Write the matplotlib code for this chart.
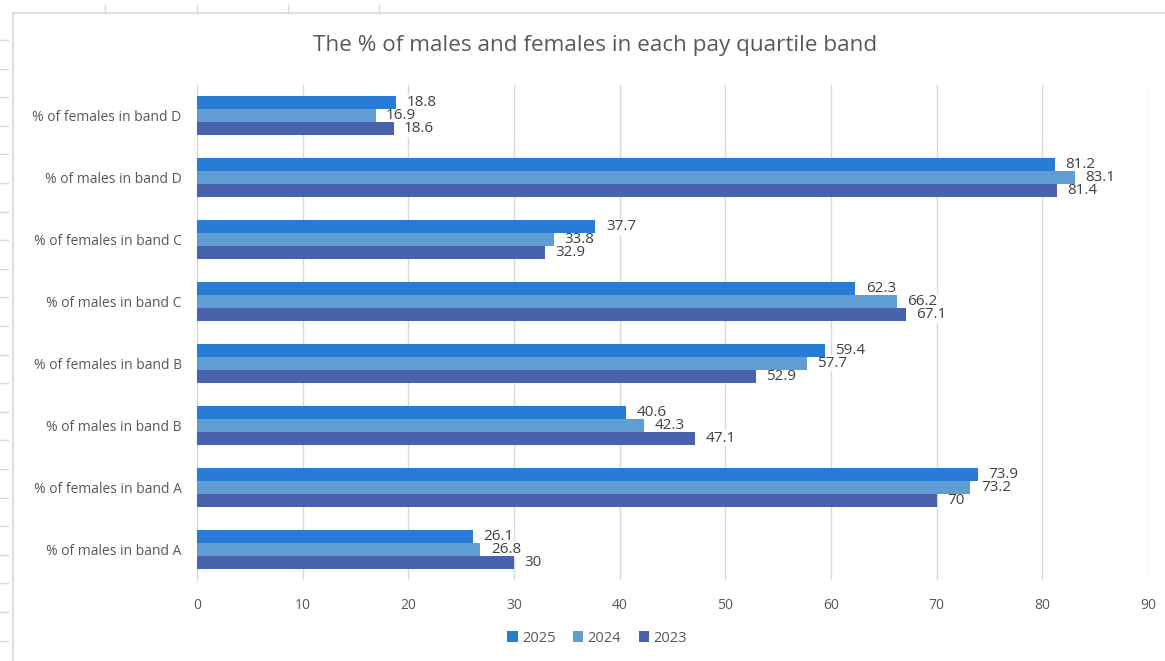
import matplotlib.pyplot as plt
import numpy as np

# Data (top to bottom)
categories = ['% of females in band D', '% of males in band D',
              '% of females in band C', '% of males in band C',
              '% of females in band B', '% of males in band B',
              '% of females in band A', '% of males in band A']
vals_2025 = [18.8, 81.2, 37.7, 62.3, 59.4, 40.6, 73.9, 26.1]
vals_2024 = [16.9, 83.1, 33.8, 66.2, 57.7, 42.3, 73.2, 26.8]
vals_2023 = [18.6, 81.4, 32.9, 67.1, 52.9, 47.1, 70, 30]
years = ['2025', '2024', '2023']
colors = ['#287CD6', '#5F9DD3', '#4862AB']

plt.rcParams['font.family'] = ['Open Sans', 'DejaVu Sans']

fig = plt.figure(figsize=(11.65, 6.61), dpi=100)
ax = fig.add_axes([197 / 1165, 1 - 580 / 661, 951 / 1165, 495 / 661])

# spreadsheet background lines around the chart
fig.add_artist(plt.Line2D([13 / 1165, 1], [1 - 13 / 661] * 2, color='#d9d9d9', lw=1.2))
fig.add_artist(plt.Line2D([13 / 1165] * 2, [0, 1 - 13 / 661], color='#d9d9d9', lw=1.2))
for yy in np.arange(40, 661, 28.6):
    fig.add_artist(plt.Line2D([0, 8 / 1165], [1 - yy / 661] * 2, color='#d9d9d9', lw=1))
for xx in [105, 197, 288, 379]:
    fig.add_artist(plt.Line2D([xx / 1165] * 2, [1 - 5 / 661, 1 - 13 / 661], color='#d9d9d9', lw=1))

y = np.arange(len(categories))[::-1]
h = 0.21
series = [vals_2025, vals_2024, vals_2023]
for i, (vals, year, col) in enumerate(zip(series, years, colors)):
    pos = y + h * (1 - i)
    bars = ax.barh(pos, vals, height=h, color=col, label=year, zorder=3)
    for b, v in zip(bars, vals):
        # labels sit under the bars so their white box only hides gridlines
        ax.text(v + 1.0, b.get_y() + h / 2, f'{v:g}', va='center', ha='left',
                fontsize=11, color='#404040', zorder=2,
                bbox=dict(facecolor='white', edgecolor='none', pad=0.3))

ax.set_xlim(0, 90)
ax.set_xticks(np.arange(0, 91, 10))
ax.set_ylim(-0.5, len(categories) - 0.5)
ax.set_yticks(y)
ax.set_yticklabels(categories)
ax.grid(axis='x', color='#d9d9d9', lw=1, zorder=0)
for s in ['top', 'right', 'bottom']:
    ax.spines[s].set_visible(False)
ax.spines['left'].set_color('#d9d9d9')
ax.tick_params(axis='both', length=0, colors='#595959', labelsize=10)
ax.tick_params(axis='y', pad=11)
ax.tick_params(axis='x', pad=13)

fig.text(595 / 1165, 1 - 45 / 661, 'The % of males and females in each pay quartile band',
         ha='center', va='center', fontsize=16.2, color='#595959')

ax.legend(loc='center', bbox_to_anchor=(597 / 1165, 1 - 638 / 661),
          bbox_transform=fig.transFigure, ncol=3, frameon=False, fontsize=10.5,
          handlelength=0.7, handleheight=0.7, handletextpad=0.3, columnspacing=1.2,
          labelcolor='#595959')

fig.savefig('out.png', dpi=100)
